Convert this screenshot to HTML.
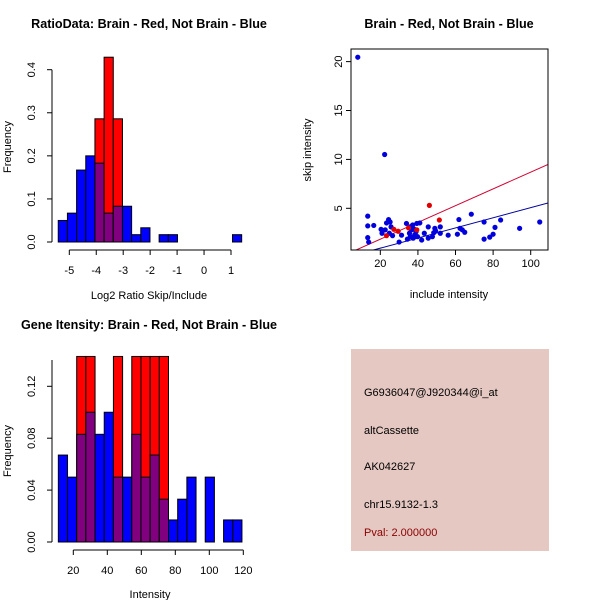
<!DOCTYPE html>
<html><head><meta charset="utf-8"><style>
body{margin:0;background:#fff;}
svg{display:block;font-family:"Liberation Sans",sans-serif;}
</style></head><body>
<svg id="s" width="600" height="600" xmlns="http://www.w3.org/2000/svg">
<rect width="600" height="600" fill="#fff"/>
<text x="149" y="28" font-size="12.6" font-weight="bold" text-anchor="middle">RatioData: Brain - Red, Not Brain - Blue</text>
<text x="449" y="28" font-size="12.6" font-weight="bold" text-anchor="middle">Brain - Red, Not Brain - Blue</text>
<text x="149" y="329" font-size="12.6" font-weight="bold" text-anchor="middle">Gene Itensity: Brain - Red, Not Brain - Blue</text>
<text x="149" y="299" font-size="11" text-anchor="middle">Log2 Ratio Skip/Include</text>
<text x="150" y="598" font-size="11" text-anchor="middle">Intensity</text>
<text x="449" y="298" font-size="11" text-anchor="middle">include intensity</text>
<text transform="translate(11,147) rotate(-90)" font-size="11" text-anchor="middle">Frequency</text>
<text transform="translate(11,451) rotate(-90)" font-size="11" text-anchor="middle">Frequency</text>
<text transform="translate(311,150) rotate(-90)" font-size="11" text-anchor="middle">skip intensity</text>
<g>
<rect x="351" y="349" width="198" height="202" fill="#e5c8c2"/>
<text x="364" y="396" font-size="11">G6936047@J920344@i_at</text>
<text x="364" y="434" font-size="11">altCassette</text>
<text x="364" y="470" font-size="11">AK042627</text>
<text x="364" y="508" font-size="11">chr15.9132-1.3</text>
<text x="364" y="536" font-size="11" fill="#8b0000">Pval: 2.000000</text>
</g>
</svg>
<script>
// Ratio histogram data
const ratioStart = -5.41;
const ratioBinW = 0.3403;
const ratioBlue = [0.05,0.067,0.167,0.2,0.183,0.067,0.083,0.083,0.017,0.033,0,0.017,0.017,0,0,0,0,0,0,0.017];
const ratioRed = [0,0,0,0,0.286,0.429,0.286,0,0,0,0,0,0,0,0,0,0,0,0,0];
const ratioXTicks = [-5,-4,-3,-2,-1,0,1];
const ratioYTicks = [0,0.1,0.2,0.3,0.4];
// Gene intensity histogram data
const geneStart = 11.2;
const geneBinW = 5.4;
const geneBlue = [0.067,0.05,0.083,0.1,0.083,0.1,0.05,0.05,0.083,0.05,0.067,0.033,0.017,0.033,0.05,0,0.05,0,0.017,0.017];
const geneRed = [0,0,0.143,0.143,0,0,0.143,0,0.143,0.143,0.143,0.143,0,0,0,0,0,0,0,0];
const geneXTicks = [20,40,60,80,100,120];
const geneYTicks = [0,0.04,0.08,0.12];
// Scatter data
const blueX = [8,22.3,13.3,13.3,16.5,13.3,13.8,20.4,20.9,22.6,23.3,24.4,25.2,25.7,24.8,26.5,31.3,30,33.9,34.4,35.5,36,36.6,37.5,35.8,37.2,38.3,39,39.8,37.8,39.4,41,42,43.4,45.5,45.5,47.7,48.4,49,49.4,51.9,51.9,56.1,61,61.8,62.4,63.6,64.9,68.4,75.2,75.2,78.2,80,81,84,94.1,104.8];
const blueY = [20.45,10.5,4.2,3.2,3.25,2.0,1.55,2.85,2.45,2.8,3.5,3.85,3.6,3.1,2.45,2.2,2.25,1.55,3.45,1.85,2.45,2.1,2.8,1.95,3.1,3.3,2.3,2.6,2.1,2.9,3.45,3.5,1.75,2.45,3.1,1.95,2.1,2.5,2.95,2.7,3.1,2.45,2.25,2.35,3.85,2.95,2.8,2.55,4.4,3.6,1.85,2.05,2.35,3.05,3.8,2.95,3.6];
const redX = [27.2,29.5,23.3,46.1,51.4,39.4,35];
const redY = [2.85,2.65,2.2,5.3,3.8,2.8,3.0];
const fitIntercept = [0.13,-0.11]; // red, blue
const fitSlope = [0.0857,0.0518];
const scXTicks = [20,40,60,80,100];
const scYTicks = [5,10,15,20];

const NS="http://www.w3.org/2000/svg";
const svg=document.getElementById('s');
function mk(tag,attrs,parent){const e=document.createElementNS(NS,tag);for(const k in attrs)e.setAttribute(k,attrs[k]);(parent||svg).appendChild(e);return e;}

function hist(name,start,bw,blue,red,xTicks,yTicks,ax,ay,yDigits,px0,py0,pyTop,yTopVal){
  const sx=v=>ax.x0+(v-ax.v0)*ax.k;
  const sy=v=>py0-(v/yTopVal)*(py0-pyTop);
  const g=mk('g',{});
  
  
  for(let i=0;i<blue.length;i++){
    const x1=sx(start+i*bw),x2=sx(start+(i+1)*bw);
    const b=blue[i],r=red[i];
    if(r>0){const e=mk('rect',{x:x1,y:sy(r),width:x2-x1,height:sy(0)-sy(r),fill:'#ff0000',stroke:'#000','stroke-width':1},g);
      
      }
    if(b>0){
      const e=mk('rect',{x:x1,y:sy(b),width:x2-x1,height:sy(0)-sy(b),fill:(r>0?'#800080':'#0000ff'),stroke:'#000','stroke-width':1},g);
      
      
      if(b>r&&r>0){e.setAttribute('fill','#0000ff');mk('rect',{x:x1,y:sy(r),width:x2-x1,height:sy(0)-sy(r),fill:'#800080',stroke:'#000','stroke-width':1},g);}
    }
  }
  const xa=mk('g',{},g);
  
  
  mk('line',{x1:sx(xTicks[0]),x2:sx(xTicks[xTicks.length-1]),y1:ay.xAxisY,y2:ay.xAxisY,stroke:'#000'},xa);
  xTicks.forEach(t=>{mk('line',{x1:sx(t),x2:sx(t),y1:ay.xAxisY,y2:ay.xAxisY+5,stroke:'#000'},xa);
    const tx=mk('text',{x:sx(t),y:ay.xAxisY+24,'font-size':11,'text-anchor':'middle'},xa);tx.textContent=String(t);});
  const ya=mk('g',{},g);
  
  
  mk('line',{x1:px0,x2:px0,y1:sy(yTicks[0]),y2:ay.yAxisTop!==undefined?ay.yAxisTop:sy(yTicks[yTicks.length-1]),stroke:'#000'},ya);
  yTicks.forEach(t=>{mk('line',{x1:px0,x2:px0-5,y1:sy(t),y2:sy(t),stroke:'#000'},ya);
    const tx=mk('text',{transform:`translate(${px0-17},${sy(t)}) rotate(-90)`,'font-size':11,'text-anchor':'middle'},ya);tx.textContent=t.toFixed(yDigits);});
}
hist('ratio-histogram',ratioStart,ratioBinW,ratioBlue,ratioRed,ratioXTicks,ratioYTicks,{x0:69.3,v0:-5,k:26.95},{xAxisY:250},1,52,242,69.7,0.4);
hist('gene-histogram',geneStart,geneBinW,geneBlue,geneRed,geneXTicks,geneYTicks,{x0:73.3,v0:20,k:1.7},{xAxisY:550,yAxisTop:360},2,52,542,386.3,0.12);

(function(){
  const X0=351,X1=548,Y0=49,Y1=250,xmin=4.4,xmax=109.2,ymin=0.736,ymax=21.29;
  const sx=v=>X0+(v-xmin)/(xmax-xmin)*(X1-X0);
  const sy=v=>Y1-(v-ymin)/(ymax-ymin)*(Y1-Y0);
  const g=mk('g',{});
  
  
  mk('defs',{},g).innerHTML=`<clipPath id="cp"><rect x="${X0}" y="${Y0}" width="${X1-X0}" height="${Y1-Y0}"/></clipPath>`;
  const cols=['#d00030','#0000a0'];
  for(let i=0;i<2;i++){
    const l=mk('line',{x1:sx(xmin),y1:sy(fitIntercept[i]+fitSlope[i]*xmin),x2:sx(xmax),y2:sy(fitIntercept[i]+fitSlope[i]*xmax),stroke:cols[i],'stroke-width':1,'clip-path':'url(#cp)'},g);
    
    
  }
  for(let i=0;i<blueX.length;i++){const c=mk('circle',{cx:sx(blueX[i]),cy:sy(blueY[i]),r:2.6,fill:'#0000dd'},g);
    
    }
  for(let i=0;i<redX.length;i++){const c=mk('circle',{cx:sx(redX[i]),cy:sy(redY[i]),r:2.6,fill:'#e00000'},g);
    
    }
  const b=mk('rect',{x:X0,y:Y0,width:X1-X0,height:Y1-Y0,fill:'none',stroke:'#000'},g);
  
  
  scXTicks.forEach(t=>{mk('line',{x1:sx(t),x2:sx(t),y1:Y1,y2:Y1+5,stroke:'#000'},g);
    const tx=mk('text',{x:sx(t),y:Y1+17,'font-size':11,'text-anchor':'middle'},g);tx.textContent=String(t);});
  scYTicks.forEach(t=>{mk('line',{x1:X0,x2:X0-5,y1:sy(t),y2:sy(t),stroke:'#000'},g);
    const tx=mk('text',{transform:`translate(${X0-9},${sy(t)}) rotate(-90)`,'font-size':11,'text-anchor':'middle'},g);tx.textContent=String(t);});
})();
</script>
</body></html>
